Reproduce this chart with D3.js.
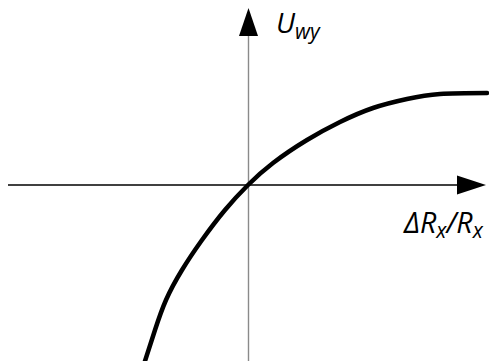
<!DOCTYPE html>
<html>
<head>
<meta charset="utf-8">
<script src="https://cdn.jsdelivr.net/npm/d3@7"></script>
<style>
  html, body { margin: 0; padding: 0; background: #fff; }
  svg { display: block; }
  text { font-family: "Open Sans", Lato, sans-serif; font-style: italic; fill: #000; }
</style>
</head>
<body>
<div id="chart"></div>
<script>
// Transfer characteristic: output voltage against relative resistance change
const deltaR = [-1.03, -0.93, -0.82, -0.66, -0.46, -0.23, 0, 0.25, 0.59, 0.92, 1.25, 1.59, 1.92, 2.39];
const uwy    = [-1.76, -1.45, -1.15, -0.85, -0.55, -0.25, 0, 0.22, 0.45, 0.63, 0.77, 0.86, 0.91, 0.92];
const xLabel = ["ΔR", "x", "/R", "x"];
const yLabel = ["U", "wy"];

const W = 489, H = 361;
const svg = d3.select("#chart").append("svg").attr("width", W).attr("height", H);

const x = d3.scaleLinear().domain([-2.4, 2.4]).range([8, 488]);
const y = d3.scaleLinear().domain([1.85, -1.76]).range([0, 361]);

const x0 = x(0), y0 = y(0);

// vertical axis (grey) with arrow head
svg.append("line")
  .attr("x1", x0 + 0.5).attr("x2", x0 + 0.5)
  .attr("y1", H).attr("y2", 34)
  .attr("stroke", "#8a8a8a").attr("stroke-width", 1.4);
svg.append("path")
  .attr("d", `M${x0 + 0.5},8 L${x0 - 9},36 L${x0 + 10},36 Z`)
  .attr("fill", "#000");

// horizontal axis with arrow head
svg.append("line")
  .attr("x1", x(-2.4)).attr("x2", 458)
  .attr("y1", y0).attr("y2", y0)
  .attr("stroke", "#000").attr("stroke-width", 1.3);
svg.append("path")
  .attr("d", `M486,${y0} L457,${y0 - 9.5} L457,${y0 + 9.5} Z`)
  .attr("fill", "#000");

// characteristic curve (smooth spline through the sampled points)
const line = d3.line()
  .x((d, i) => x(deltaR[i]))
  .y(d => y(d))
  .curve(d3.curveNatural);
svg.append("path")
  .datum(uwy)
  .attr("d", line)
  .attr("fill", "none")
  .attr("stroke", "#000")
  .attr("stroke-width", 4.5)
  .attr("stroke-linecap", "round");

// axis labels
const yl = svg.append("text").attr("x", 276).attr("y", 33).attr("font-size", 28);
yl.append("tspan").text(yLabel[0]);
yl.append("tspan").attr("dy", 6).attr("font-size", 21).text(yLabel[1]);

const xl = svg.append("text").attr("x", 404).attr("y", 233).attr("font-size", 28.5);
xl.append("tspan").text(xLabel[0]);
xl.append("tspan").attr("dy", 5).attr("font-size", 21).text(xLabel[1]);
xl.append("tspan").attr("dy", -5).text(xLabel[2]);
xl.append("tspan").attr("dy", 5).attr("font-size", 21).text(xLabel[3]);
</script>
</body>
</html>
